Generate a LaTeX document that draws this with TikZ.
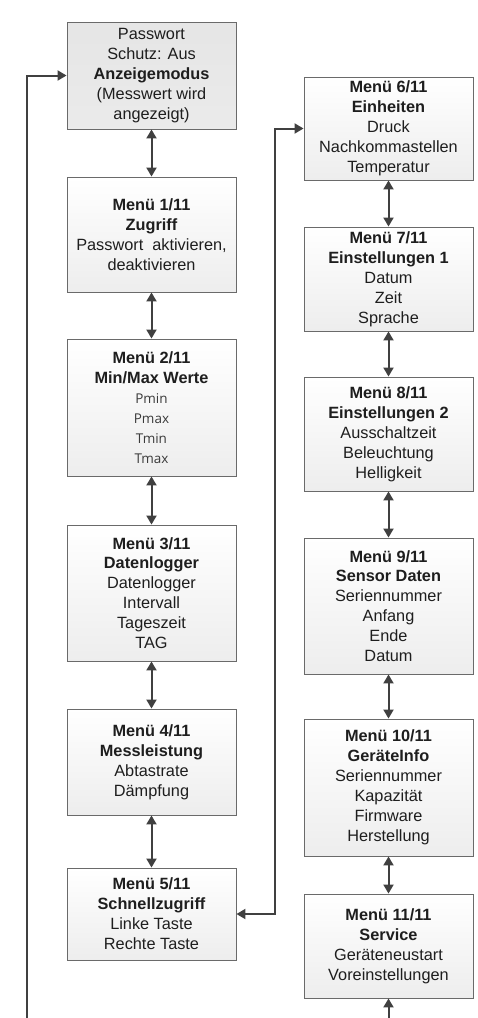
\documentclass[tikz,border=0pt]{standalone}
\usepackage{fontspec}
\setmainfont{Liberation Sans}
\newfontfamily\smallfnt{Open Sans}
\usetikzlibrary{arrows.meta,positioning,calc}
\definecolor{linegray}{HTML}{404040}
\definecolor{bordergray}{HTML}{6A6A6A}
\definecolor{txt}{HTML}{1E1E1E}
\definecolor{smtxt}{HTML}{3A3A3A}
\tikzset{
  menubox/.style={draw=bordergray, line width=0.9pt, top color=white, bottom color=gray!14,
    minimum width=169pt, inner sep=0pt, align=center, text=txt,
    font=\fontsize{16.3}{19.9}\selectfont},
  startbox/.style={menubox, top color=gray!20, bottom color=gray!16},
  conn/.style={draw=linegray, line width=2pt, {Triangle[length=9pt,width=10pt]}-{Triangle[length=9pt,width=10pt]}},
  oneway/.style={draw=linegray, line width=2pt, -{Triangle[length=9pt,width=10pt]}}
}
\newcommand{\smitem}[1]{{\smallfnt\fontsize{13.5}{19.9}\selectfont\color{smtxt}#1}}
\begin{document}
\begin{tikzpicture}[x=1pt,y=-1pt]
\useasboundingbox (0,0) rectangle (477,1018);
% left column
\node[startbox, minimum height=107pt] (b0) at (151.5,75.5)
  {Passwort\\Schutz: Aus\\\textbf{Anzeigemodus}\\(Messwert wird\\angezeigt)};
\node[menubox, minimum height=115pt] (b1) at (151.5,234.5)
  {\textbf{Menü 1/11}\\\textbf{Zugriff}\\Passwort\ \ aktivieren,\\deaktivieren};
\node[menubox, minimum height=137pt] (b2) at (151.5,407.5)
  {\textbf{Menü 2/11}\\\textbf{Min/Max Werte}\\\smitem{Pmin}\\\smitem{Pmax}\\\smitem{Tmin}\\\smitem{Tmax}};
\node[menubox, minimum height=136pt] (b3) at (151.5,593)
  {\textbf{Menü 3/11}\\\textbf{Datenlogger}\\Datenlogger\\Intervall\\Tageszeit\\TAG};
\node[menubox, minimum height=106pt] (b4) at (151.5,762)
  {\textbf{Menü 4/11}\\\textbf{Messleistung}\\Abtastrate\\Dämpfung};
\node[menubox, minimum height=92pt] (b5) at (151.5,914)
  {\textbf{Menü 5/11}\\\textbf{Schnellzugriff}\\Linke Taste\\Rechte Taste};
% right column
\node[menubox, minimum height=103pt] (b6) at (388.5,128.5)
  {\textbf{Menü 6/11}\\\textbf{Einheiten}\\Druck\\Nachkommastellen\\Temperatur};
\node[menubox, minimum height=104pt] (b7) at (388.5,279)
  {\textbf{Menü 7/11}\\\textbf{Einstellungen 1}\\Datum\\Zeit\\Sprache};
\node[menubox, minimum height=114pt] (b8) at (388.5,434)
  {\textbf{Menü 8/11}\\\textbf{Einstellungen 2}\\Ausschaltzeit\\Beleuchtung\\Helligkeit};
\node[menubox, minimum height=136pt] (b9) at (388.5,606)
  {\textbf{Menü 9/11}\\\textbf{Sensor Daten}\\Seriennummer\\Anfang\\Ende\\Datum};
\node[menubox, minimum height=137pt] (b10) at (388.5,787.5)
  {\textbf{Menü 10/11}\\\textbf{GeräteInfo}\\Seriennummer\\Kapazität\\Firmware\\Herstellung};
\node[menubox, minimum height=104pt] (b11) at (388.5,946)
  {\textbf{Menü 11/11}\\\textbf{Service}\\Geräteneustart\\Voreinstellungen};
% connectors
\draw[conn] (b0) -- (b1);
\draw[conn] (b1) -- (b2);
\draw[conn] (b2) -- (b3);
\draw[conn] (b3) -- (b4);
\draw[conn] (b4) -- (b5);
\draw[conn] (b6) -- (b7);
\draw[conn] (b7) -- (b8);
\draw[conn] (b8) -- (b9);
\draw[conn] (b9) -- (b10);
\draw[conn] (b10) -- (b11);
\coordinate (lb) at (27,1018);
\coordinate (rb) at (388.5,1018);
\coordinate (jx) at (275,0);
\draw[oneway] (lb) |- (b0.west);
\draw[oneway] (rb) -- (b11.south);
\draw[conn] (b5.east) -- (jx |- b5.east) -- (jx |- b6.west) -- (b6.west);
\end{tikzpicture}
\end{document}
